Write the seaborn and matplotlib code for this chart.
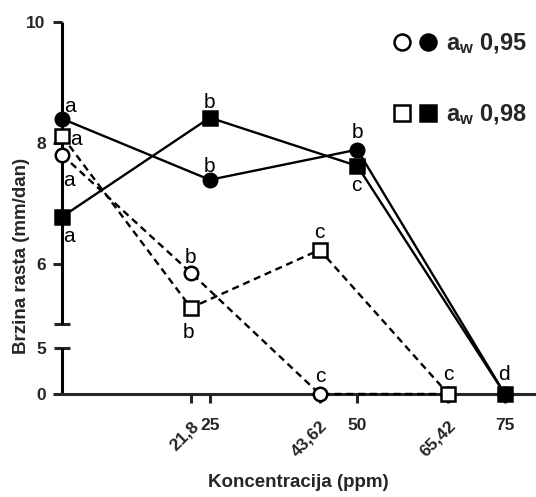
import numpy as np
import pandas as pd
import matplotlib
matplotlib.use("Agg")
import matplotlib.pyplot as plt
import seaborn as sns
from matplotlib.lines import Line2D
from matplotlib.legend_handler import HandlerTuple

# ---------------- data ----------------
conc_solid = [0, 25, 50, 75]
conc_dashed = [0, 21.8, 43.62, 65.42]
rate_095_solid = [8.40, 7.39, 7.89, 0.0]
rate_098_solid = [6.78, 8.42, 7.62, 0.0]
rate_095_dashed = [7.80, 5.85, 0.0, 0.0]
rate_098_dashed = [8.11, 5.27, 6.23, 0.0]
letters_095_solid = ['a', 'b', 'b', '']
letters_098_solid = ['a', 'b', 'c', 'd']
letters_095_dashed = ['a', 'b', 'c', '']
letters_098_dashed = ['a', 'b', 'c', 'c']
xtick_values = [21.8, 25, 43.62, 50, 65.42, 75]
xtick_labels = ['21,8', '25', '43,62', '50', '65,42', '75']
ytick_values = [0, 6, 8, 10]
ytick_labels = ['0', '6', '8', '10']
legend_labels = [r'a$_\mathbf{w}$ 0,95', r'a$_\mathbf{w}$ 0,98']
x_label = 'Koncentracija (ppm)'
y_label = 'Brzina rasta (mm/dan)'

# ---------------- style ----------------
sns.set_style('ticks')
plt.rcParams['font.family'] = ['Liberation Sans', 'DejaVu Sans']
plt.rcParams['mathtext.fontset'] = 'custom'
plt.rcParams['mathtext.rm'] = 'Liberation Sans'
plt.rcParams['mathtext.bf'] = 'Liberation Sans:bold'
plt.rcParams['mathtext.it'] = 'Liberation Sans:italic'

# broken y scale (lower 0-5 compressed, gap, upper 5-10)
LOW_H, GAP, UP_PER, BRK = 46.3, 23.7, 60.4, 5.0


def fwd(v):
    v = np.asarray(v, dtype=float)
    return np.where(v <= BRK, v * LOW_H / BRK, LOW_H + GAP + (v - BRK) * UP_PER)


def inv(y):
    y = np.asarray(y, dtype=float)
    return np.where(y <= LOW_H, y * BRK / LOW_H,
                    np.where(y < LOW_H + GAP, BRK, BRK + (y - LOW_H - GAP) / UP_PER))


W, H = 536, 497
fig = plt.figure(figsize=(W / 100, H / 100), dpi=100)
ax = fig.add_axes([62.3 / W, (H - 394) / H, (534.3 - 62.3) / W, (394 - 22.3) / H])
ax.set_yscale('function', functions=(fwd, inv))
ax.set_xlim(0, 80)
ax.set_ylim(0, 10)

LW = 1.7
MS = 9.7
series = [
    (conc_solid, rate_095_solid, letters_095_solid, 'o', 'black', '-'),
    (conc_solid, rate_098_solid, letters_098_solid, 's', 'black', '-'),
    (conc_dashed, rate_095_dashed, letters_095_dashed, 'o', 'white', (0, (3, 2))),
    (conc_dashed, rate_098_dashed, letters_098_dashed, 's', 'white', (0, (3, 2))),
]
for i, (xs, ys, _, mk, fc, ls) in enumerate(series):
    df = pd.DataFrame({'conc': xs, 'rate': ys})
    sns.lineplot(data=df, x='conc', y='rate', ax=ax, color='black', linewidth=LW,
                 linestyle=ls, marker=mk, markersize=MS, markerfacecolor=fc,
                 markeredgecolor='black', markeredgewidth=1.8, clip_on=False,
                 zorder=4 + i, sort=False, errorbar=None)

# letter annotations, offsets in pixels (dx right, dy down)
offsets = [
    [(8, -12), (0, -13), (0, -17), (0, 0)],
    [(7, 20), (0, -15), (-1, 20), (-1, -20)],
    [(7, 25), (0, -15), (1, -18), (0, 0)],
    [(14, 3), (-2, 25), (0, -17), (0, -19)],
]
for (xs, ys, lets, *_), offs in zip(series, offsets):
    for x, y, t, (dx, dy) in zip(xs, ys, lets, offs):
        if t:
            ax.annotate(t, (x, y), xytext=(dx * 0.72, -dy * 0.72), textcoords='offset points',
                        ha='center', va='center', fontsize=15, color='black', zorder=10,
                        annotation_clip=False)

# axes / spines
for s in ['top', 'right', 'left']:
    ax.spines[s].set_visible(False)
ax.spines['bottom'].set_linewidth(2.2)
ax.spines['bottom'].set_zorder(3)
ax.plot([0, 0], [0, BRK], color='black', lw=2.2, clip_on=False, zorder=3, solid_capstyle='butt')
ax.plot([0, 0], [BRK + 1e-4, 10], color='black', lw=2.2, clip_on=False, zorder=3, solid_capstyle='butt')

TLS = 12.5
ax.set_yticks(ytick_values, ytick_labels)
ax.set_yticks([BRK - 1e-4, BRK + 1e-4], ['5', ''], minor=True)
ax.tick_params(axis='y', which='major', direction='out', length=6.5, width=2.2, pad=5.5,
               labelsize=TLS)
ax.tick_params(axis='y', which='minor', direction='inout', length=12, width=2.2, pad=5.5,
               labelsize=TLS)
for lab in ax.get_yticklabels(which='both'):
    lab.set_fontweight('bold')

ax.set_xticks(xtick_values, xtick_labels)
ax.tick_params(axis='x', which='major', direction='out', length=6.5, width=2.2, pad=11,
               labelsize=TLS)
ax.tick_params(axis='x', which='minor', bottom=False)
for lab in ax.get_xticklabels():
    lab.set_fontweight('bold')
    if ',' in lab.get_text():
        lab.set_rotation(45)
        lab.set_rotation_mode('anchor')
        lab.set_ha('right')
        lab.set_va('top')

ax.set_xlabel(x_label, fontsize=13.5, fontweight='bold')
ax.xaxis.set_label_coords(0.5, -0.215)
ax.set_ylabel(y_label, fontsize=13.5, fontweight='bold')
ax.yaxis.set_label_coords(-0.068, 0.371)

# legend
h_oc = Line2D([], [], ls='none', marker='o', ms=11.5, mfc='white', mec='black', mew=1.8)
h_fc = Line2D([], [], ls='none', marker='o', ms=11.5, mfc='black', mec='black', mew=1.8)
h_os = Line2D([], [], ls='none', marker='s', ms=11.5, mfc='white', mec='black', mew=1.8)
h_fs = Line2D([], [], ls='none', marker='s', ms=11.5, mfc='black', mec='black', mew=1.8)
leg = ax.legend(handles=[(h_oc, h_fc), (h_os, h_fs)], labels=legend_labels,
                handler_map={tuple: HandlerTuple(ndivide=None, pad=0.47)},
                loc='upper right', bbox_to_anchor=(527 / W, (H - 31) / H),
                bbox_transform=fig.transFigure, frameon=False,
                prop={'weight': 'bold', 'size': 17}, labelspacing=1.97,
                handlelength=1.8, handletextpad=0.42, borderpad=0, borderaxespad=0)

fig.savefig('out.png', dpi=100)
